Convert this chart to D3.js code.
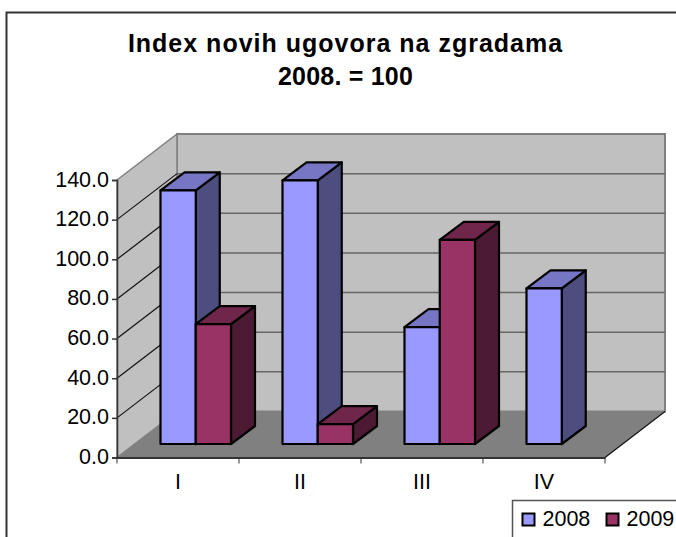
<!DOCTYPE html>
<html>
<head>
<meta charset="utf-8">
<script src="https://cdn.jsdelivr.net/npm/d3@7"></script>
<style>
html,body{margin:0;padding:0;background:#fff;overflow:hidden}
svg{display:block}
text{font-family:"Liberation Sans",Arial,sans-serif;fill:#000}
</style>
</head>
<body>
<svg id="chart" width="676" height="537"></svg>
<script>
const categories = ["I", "II", "III", "IV"];
const seriesNames = ["2008", "2009"];
const values2008 = [128, 133, 59, 78.5];
const values2009 = [60.5, 10, 103, null];
const yTicks = [0, 20, 40, 60, 80, 100, 120, 140];
const titleLines = ["Index novih ugovora na zgradama", "2008. = 100"];

const colors = {
  "2008": {front: "#9999ff", top: "#7676c4", side: "#4d4d7f"},
  "2009": {front: "#993366", top: "#70254b", side: "#4d1a33"}
};
const wallDepth = {dx: 60, dy: -46};
const barDepth = {dx: 24, dy: -18};
const barInset = {dy: -13.5};

const svg = d3.select("#chart");
const x = d3.scaleBand().domain(categories).range([117, 605]);
const xInner = d3.scaleBand().domain(seriesNames).range([43.5, 114]);
const y = d3.scaleLinear().domain([0, 140]).range([457.5, 180]);

const pts = a => a.map(p => p.join(",")).join(" ");

// chart frame
svg.append("path").attr("d", "M6.5,537V12.5H676").attr("fill", "none")
  .attr("stroke", "#333").attr("stroke-width", 2);

// title
svg.selectAll("text.title").data(titleLines).join("text").attr("class", "title")
  .attr("x", 345.5).attr("y", (d, i) => 52 + i * 33)
  .attr("text-anchor", "middle").attr("font-size", 25).attr("font-weight", "bold")
  .attr("letter-spacing", (d, i) => i ? 0.2 : 1).text(d => d);

const x0 = x.range()[0], x1 = x.range()[1], yT = y(140), yB = y(0);
const wx = wallDepth.dx, wy = wallDepth.dy;

// back wall
svg.append("polygon").attr("points", pts([[x0 + wx, yT + wy], [x1 + wx, yT + wy], [x1 + wx, yB + wy], [x0 + wx, yB + wy]]))
  .attr("fill", "#c0c0c0").attr("stroke", "#808080").attr("stroke-width", 2);
// side wall
svg.append("polygon").attr("points", pts([[x0, yT], [x0 + wx, yT + wy], [x0 + wx, yB + wy], [x0, yB]]))
  .attr("fill", "#c0c0c0").attr("stroke", "#808080").attr("stroke-width", 1.5);
// floor
svg.append("polygon").attr("points", pts([[x0, yB], [x0 + wx, yB + wy], [x1 + wx, yB + wy], [x1, yB]]))
  .attr("fill", "#808080");
svg.append("line").attr("x1", x1).attr("y1", yB).attr("x2", x1 + wx).attr("y2", yB + wy)
  .attr("stroke", "#111").attr("stroke-width", 1.2);

// gridlines
const gridTicks = yTicks.slice(1, -1);
svg.selectAll("line.grid").data(gridTicks).join("line").attr("class", "grid")
  .attr("x1", x0 + wx).attr("x2", x1 + wx).attr("y1", d => y(d) + wy).attr("y2", d => y(d) + wy)
  .attr("stroke", "#666").attr("stroke-width", 1.5);
svg.selectAll("line.side").data(yTicks.slice(1, -1)).join("line").attr("class", "side")
  .attr("x1", x0).attr("x2", x0 + wx).attr("y1", d => y(d)).attr("y2", d => y(d) + wy)
  .attr("stroke", "#111").attr("stroke-width", 1.2);

// bars
const rows = [];
categories.forEach((c, i) => {
  rows.push({c, s: "2008", v: values2008[i]});
  rows.push({c, s: "2009", v: values2009[i]});
});
const bars = svg.selectAll("g.bar").data(rows.filter(d => d.v !== null)).join("g").attr("class", "bar")
  .attr("stroke", "#000").attr("stroke-width", 2.2).attr("stroke-linejoin", "round");
const L = d => x(d.c) + xInner(d.s);
const R = d => L(d) + xInner.bandwidth();
const T = d => y(d.v) + barInset.dy;
const B = () => y(0) + barInset.dy;
const bx = barDepth.dx, by = barDepth.dy;
bars.append("polygon").attr("fill", d => colors[d.s].side)
  .attr("points", d => pts([[R(d), T(d)], [R(d) + bx, T(d) + by], [R(d) + bx, B() + by], [R(d), B()]]));
bars.append("polygon").attr("fill", d => colors[d.s].top)
  .attr("points", d => pts([[L(d), T(d)], [L(d) + bx, T(d) + by], [R(d) + bx, T(d) + by], [R(d), T(d)]]));
bars.append("polygon").attr("fill", d => colors[d.s].front)
  .attr("points", d => pts([[L(d), T(d)], [R(d), T(d)], [R(d), B()], [L(d), B()]]));

// y axis
const yAxis = d3.axisLeft(y).tickValues(yTicks).tickFormat(d3.format(".1f")).tickSize(5).tickPadding(3);
const gy = svg.append("g").attr("transform", `translate(${x0},0)`).call(yAxis);
gy.selectAll("text").attr("font-size", 21.5).attr("font-family", '"Liberation Sans",Arial,sans-serif').attr("fill", "#000").attr("dy", "0.28em");
gy.selectAll("line,path").attr("stroke", "#333").attr("stroke-width", 1.5);

// x axis: band edges carry ticks, labels centred on bands
const xAxis = d3.axisBottom(x).tickSize(0).tickPadding(16);
const gx = svg.append("g").attr("transform", `translate(0,${yB})`).call(xAxis);
gx.select("path").attr("stroke", "#333").attr("stroke-width", 2);
gx.selectAll("text").attr("font-size", 21.5).attr("font-family", '"Liberation Sans",Arial,sans-serif').attr("fill", "#000");
const edges = categories.map(c => x(c)).concat(x1);
gx.selectAll("line.edge").data(edges).join("line").attr("class", "edge")
  .attr("x1", d => d).attr("x2", d => d).attr("y1", 0).attr("y2", 6)
  .attr("stroke", "#333").attr("stroke-width", 1);

// legend
svg.append("path").attr("d", "M676,500.5H512.5V537").attr("fill", "none").attr("stroke", "#555").attr("stroke-width", 1.5);
const legendX = d3.scaleOrdinal().domain(seriesNames).range([522.5, 606.5]);
const lg = svg.selectAll("g.legend").data(seriesNames).join("g").attr("class", "legend")
  .attr("transform", d => `translate(${legendX(d)},513.5)`);
lg.append("rect").attr("width", 12).attr("height", 12).attr("fill", d => colors[d].front)
  .attr("stroke", "#000").attr("stroke-width", 2);
lg.append("text").attr("x", 20).attr("y", 12.5).attr("font-size", 21.5).text(d => d);
</script>
</body>
</html>
